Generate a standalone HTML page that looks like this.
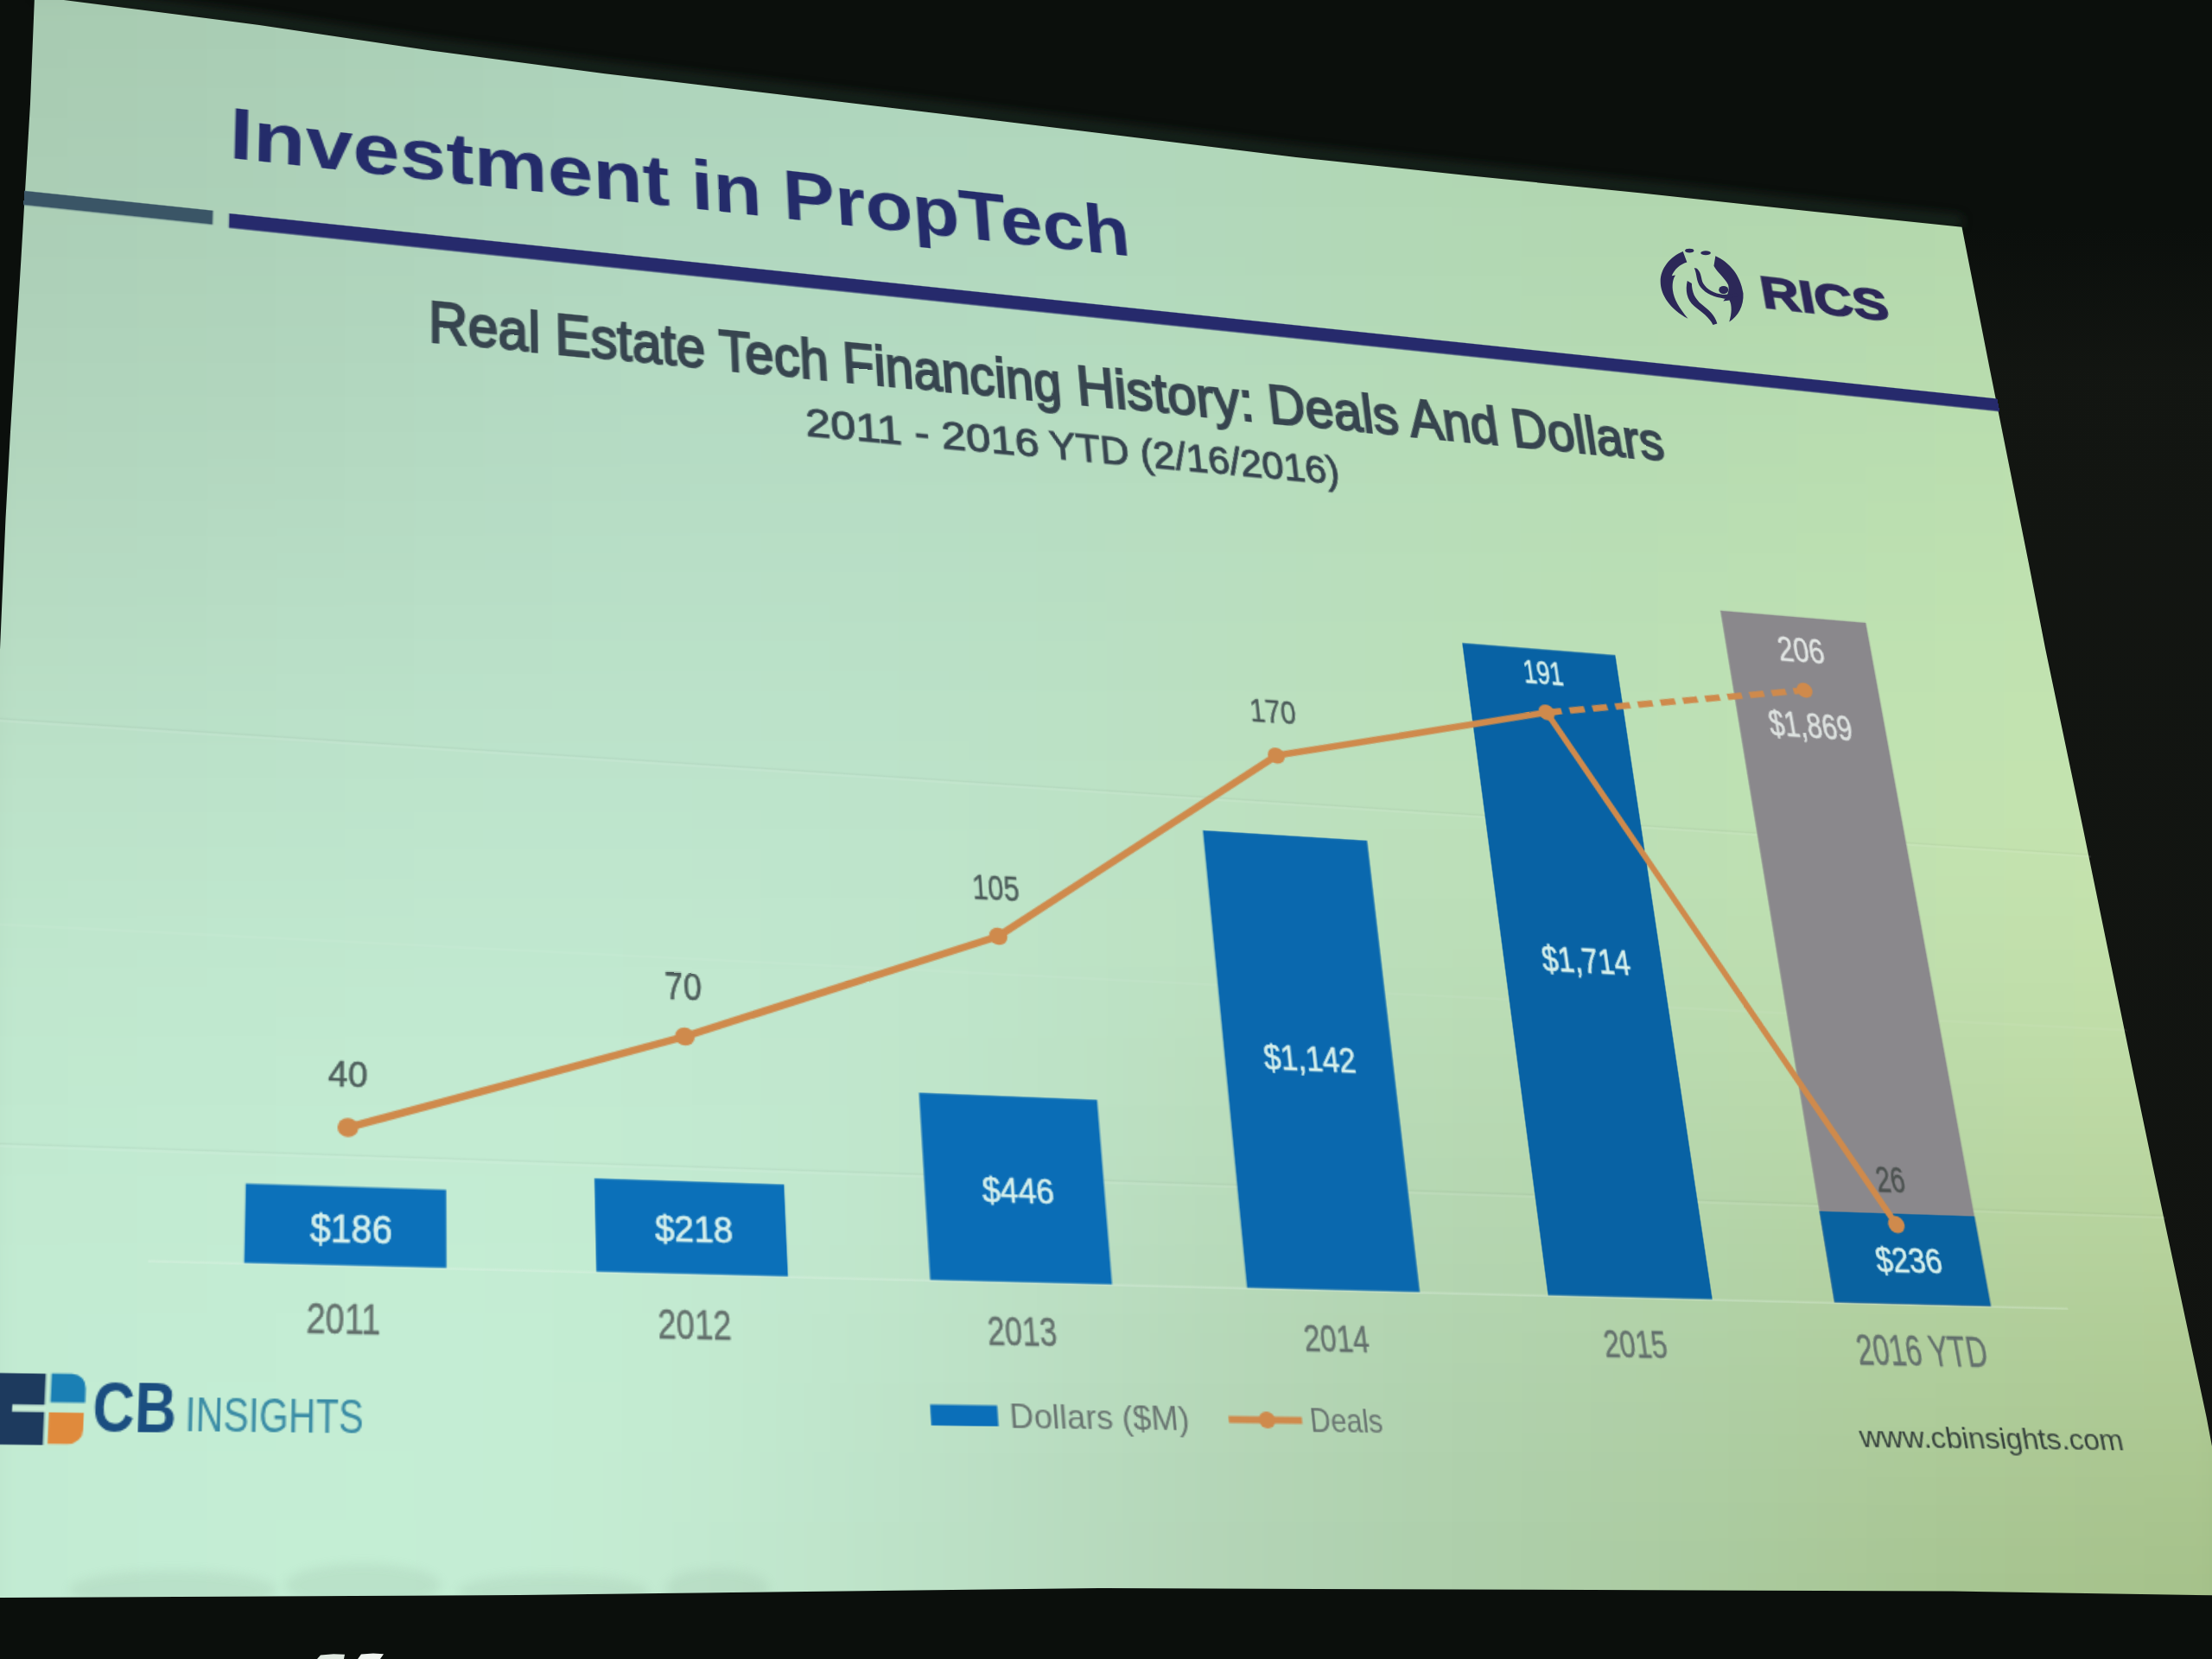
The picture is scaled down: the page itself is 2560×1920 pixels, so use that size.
<!DOCTYPE html>
<html><head><meta charset="utf-8"><title>Investment in PropTech</title>
<style>
html,body{margin:0;padding:0;width:2560px;height:1920px;overflow:hidden;background:#0a0c0a}
#bg{position:absolute;left:0;top:0}
#slide{position:absolute;left:0;top:0;width:1600px;height:1200px;transform-origin:0 0;transform:matrix3d(1.634414868,0.1944966024,0,0.0001058587836,-0.07295007135,1.266287619,0,-0.0001502861261,0,0,1,0,40,-4,0,1);font-family:"Liberation Sans", sans-serif}
#slide text{font-family:"Liberation Sans", sans-serif}
</style></head><body>
<svg id="bg" width="2560" height="1920" viewBox="0 0 2560 1920">
<defs>
<clipPath id="sc"><polygon points="40,-4 79.6,0.7 160,10.9 300,28.9 500,58.8 700,85.2 1100,133 1500,182 1700,203.3 1900,223.4 2100,245.1 2270.5,262.7 2302.4,425 2347.5,650 2367,750 2411,960 2470.6,1250 2491.5,1350 2553.6,1640 2565,1700 2600,1847 2260,1841.6 1280,1838 600,1846 0,1849 -10,1849 0,752 6.5,600 12,500 24.4,300 35,120"/></clipPath>
<filter id="bl" x="-5%" y="-5%" width="110%" height="110%" color-interpolation-filters="sRGB"><feGaussianBlur stdDeviation="40"/></filter>
<filter id="bl2" x="-50%" y="-50%" width="200%" height="200%"><feGaussianBlur stdDeviation="6"/></filter>
<linearGradient id="topband" x1="0" y1="0" x2="0" y2="1"><stop offset="0" stop-color="#0a0c0a" stop-opacity="0"/><stop offset="1" stop-color="#1e3024" stop-opacity="0.9"/></linearGradient>
<linearGradient id="rfade" x1="0" y1="0" x2="0" y2="1"><stop offset="0" stop-color="#131612" stop-opacity="0"/><stop offset="0.12" stop-color="#131612" stop-opacity="0.9"/><stop offset="1" stop-color="#121411" stop-opacity="0.9"/></linearGradient>
<linearGradient id="rband" x1="0" y1="0" x2="1" y2="0"><stop offset="0" stop-color="#1c1f1b"/><stop offset="1" stop-color="#0b0c0a"/></linearGradient>
</defs>
<rect width="2560" height="1920" fill="#0b0f0c"/>
<polygon points="2270.5,262.7 2302,425 2411,960 2553.6,1640 2560,1670 2560,262" fill="url(#rfade)"/>
<polyline points="40,-10 79.6,-5 160,4.9 300,22.9 500,52.8 700,79.2 1100,127 1500,176 1700,197.3 1900,217.4 2100,239.1 2270.5,256.7" fill="none" stroke="#1c2c20" stroke-width="14" opacity="0.75" filter="url(#bl2)"/>
<g clip-path="url(#sc)"><g filter="url(#bl)"><rect x="-80" y="-80" width="81" height="81" fill="#a7c9b0"/><rect x="0" y="-80" width="81" height="81" fill="#a7cab0"/><rect x="80" y="-80" width="81" height="81" fill="#a7cbb1"/><rect x="160" y="-80" width="81" height="81" fill="#a8cbb2"/><rect x="240" y="-80" width="81" height="81" fill="#a8ccb3"/><rect x="320" y="-80" width="81" height="81" fill="#a9cdb4"/><rect x="400" y="-80" width="81" height="81" fill="#aaceb5"/><rect x="480" y="-80" width="81" height="81" fill="#aacfb6"/><rect x="560" y="-80" width="81" height="81" fill="#abd0b7"/><rect x="640" y="-80" width="81" height="81" fill="#abd1b8"/><rect x="720" y="-80" width="81" height="81" fill="#acd2b9"/><rect x="800" y="-80" width="81" height="81" fill="#acd3ba"/><rect x="880" y="-80" width="81" height="81" fill="#add4bb"/><rect x="960" y="-80" width="81" height="81" fill="#add4bb"/><rect x="1040" y="-80" width="81" height="81" fill="#add4bb"/><rect x="1120" y="-80" width="81" height="81" fill="#aed5ba"/><rect x="1200" y="-80" width="81" height="81" fill="#aed5ba"/><rect x="1280" y="-80" width="81" height="81" fill="#aed5b9"/><rect x="1360" y="-80" width="81" height="81" fill="#aed4b7"/><rect x="1440" y="-80" width="81" height="81" fill="#aed4b5"/><rect x="1520" y="-80" width="81" height="81" fill="#aed4b3"/><rect x="1600" y="-80" width="81" height="81" fill="#add3b1"/><rect x="1680" y="-80" width="81" height="81" fill="#add3b0"/><rect x="1760" y="-80" width="81" height="81" fill="#add3ae"/><rect x="1840" y="-80" width="81" height="81" fill="#add3ad"/><rect x="1920" y="-80" width="81" height="81" fill="#add2ac"/><rect x="2000" y="-80" width="81" height="81" fill="#add2ac"/><rect x="2080" y="-80" width="81" height="81" fill="#aed2ab"/><rect x="2160" y="-80" width="81" height="81" fill="#aed3aa"/><rect x="2240" y="-80" width="81" height="81" fill="#afd3aa"/><rect x="2320" y="-80" width="81" height="81" fill="#afd3a9"/><rect x="2400" y="-80" width="81" height="81" fill="#b0d4a9"/><rect x="2480" y="-80" width="81" height="81" fill="#b1d5a9"/><rect x="2560" y="-80" width="81" height="81" fill="#b2d5a9"/><rect x="-80" y="0" width="81" height="81" fill="#a8cab1"/><rect x="0" y="0" width="81" height="81" fill="#a8cbb2"/><rect x="80" y="0" width="81" height="81" fill="#a8ccb2"/><rect x="160" y="0" width="81" height="81" fill="#a9ccb3"/><rect x="240" y="0" width="81" height="81" fill="#a9cdb4"/><rect x="320" y="0" width="81" height="81" fill="#aaceb5"/><rect x="400" y="0" width="81" height="81" fill="#abcfb6"/><rect x="480" y="0" width="81" height="81" fill="#abd0b8"/><rect x="560" y="0" width="81" height="81" fill="#acd1b9"/><rect x="640" y="0" width="81" height="81" fill="#acd2ba"/><rect x="720" y="0" width="81" height="81" fill="#add3bb"/><rect x="800" y="0" width="81" height="81" fill="#add4bb"/><rect x="880" y="0" width="81" height="81" fill="#aed4bc"/><rect x="960" y="0" width="81" height="81" fill="#aed5bc"/><rect x="1040" y="0" width="81" height="81" fill="#aed5bc"/><rect x="1120" y="0" width="81" height="81" fill="#afd5bb"/><rect x="1200" y="0" width="81" height="81" fill="#afd6bb"/><rect x="1280" y="0" width="81" height="81" fill="#afd6b9"/><rect x="1360" y="0" width="81" height="81" fill="#afd5b8"/><rect x="1440" y="0" width="81" height="81" fill="#afd5b6"/><rect x="1520" y="0" width="81" height="81" fill="#afd5b4"/><rect x="1600" y="0" width="81" height="81" fill="#aed4b2"/><rect x="1680" y="0" width="81" height="81" fill="#aed4b0"/><rect x="1760" y="0" width="81" height="81" fill="#aed4af"/><rect x="1840" y="0" width="81" height="81" fill="#aed4ae"/><rect x="1920" y="0" width="81" height="81" fill="#aed4ad"/><rect x="2000" y="0" width="81" height="81" fill="#afd4ac"/><rect x="2080" y="0" width="81" height="81" fill="#afd4ab"/><rect x="2160" y="0" width="81" height="81" fill="#afd4ab"/><rect x="2240" y="0" width="81" height="81" fill="#b0d4aa"/><rect x="2320" y="0" width="81" height="81" fill="#b1d5aa"/><rect x="2400" y="0" width="81" height="81" fill="#b2d5aa"/><rect x="2480" y="0" width="81" height="81" fill="#b3d6aa"/><rect x="2560" y="0" width="81" height="81" fill="#b4d7aa"/><rect x="-80" y="80" width="81" height="81" fill="#a9ccb3"/><rect x="0" y="80" width="81" height="81" fill="#a9ccb3"/><rect x="80" y="80" width="81" height="81" fill="#aacdb4"/><rect x="160" y="80" width="81" height="81" fill="#aaceb5"/><rect x="240" y="80" width="81" height="81" fill="#abcfb6"/><rect x="320" y="80" width="81" height="81" fill="#abd0b7"/><rect x="400" y="80" width="81" height="81" fill="#acd1b8"/><rect x="480" y="80" width="81" height="81" fill="#acd2b9"/><rect x="560" y="80" width="81" height="81" fill="#add3ba"/><rect x="640" y="80" width="81" height="81" fill="#aed4bb"/><rect x="720" y="80" width="81" height="81" fill="#aed4bc"/><rect x="800" y="80" width="81" height="81" fill="#afd5bc"/><rect x="880" y="80" width="81" height="81" fill="#afd5bd"/><rect x="960" y="80" width="81" height="81" fill="#afd6bd"/><rect x="1040" y="80" width="81" height="81" fill="#afd6bd"/><rect x="1120" y="80" width="81" height="81" fill="#b0d6bc"/><rect x="1200" y="80" width="81" height="81" fill="#b0d6bc"/><rect x="1280" y="80" width="81" height="81" fill="#b0d6ba"/><rect x="1360" y="80" width="81" height="81" fill="#b0d6b9"/><rect x="1440" y="80" width="81" height="81" fill="#b0d6b7"/><rect x="1520" y="80" width="81" height="81" fill="#b0d6b5"/><rect x="1600" y="80" width="81" height="81" fill="#b0d5b3"/><rect x="1680" y="80" width="81" height="81" fill="#afd5b1"/><rect x="1760" y="80" width="81" height="81" fill="#afd5b0"/><rect x="1840" y="80" width="81" height="81" fill="#b0d5af"/><rect x="1920" y="80" width="81" height="81" fill="#b0d5ae"/><rect x="2000" y="80" width="81" height="81" fill="#b0d5ad"/><rect x="2080" y="80" width="81" height="81" fill="#b0d5ac"/><rect x="2160" y="80" width="81" height="81" fill="#b1d5ac"/><rect x="2240" y="80" width="81" height="81" fill="#b1d6ab"/><rect x="2320" y="80" width="81" height="81" fill="#b2d6ab"/><rect x="2400" y="80" width="81" height="81" fill="#b3d7ab"/><rect x="2480" y="80" width="81" height="81" fill="#b4d8ab"/><rect x="2560" y="80" width="81" height="81" fill="#b6d9ab"/><rect x="-80" y="160" width="81" height="81" fill="#aacdb4"/><rect x="0" y="160" width="81" height="81" fill="#abceb5"/><rect x="80" y="160" width="81" height="81" fill="#abceb6"/><rect x="160" y="160" width="81" height="81" fill="#abcfb7"/><rect x="240" y="160" width="81" height="81" fill="#acd0b7"/><rect x="320" y="160" width="81" height="81" fill="#add1b9"/><rect x="400" y="160" width="81" height="81" fill="#add2ba"/><rect x="480" y="160" width="81" height="81" fill="#aed3bb"/><rect x="560" y="160" width="81" height="81" fill="#aed4bc"/><rect x="640" y="160" width="81" height="81" fill="#afd5bd"/><rect x="720" y="160" width="81" height="81" fill="#afd6bd"/><rect x="800" y="160" width="81" height="81" fill="#b0d6be"/><rect x="880" y="160" width="81" height="81" fill="#b0d7be"/><rect x="960" y="160" width="81" height="81" fill="#b0d7be"/><rect x="1040" y="160" width="81" height="81" fill="#b1d7be"/><rect x="1120" y="160" width="81" height="81" fill="#b1d7bd"/><rect x="1200" y="160" width="81" height="81" fill="#b1d7bd"/><rect x="1280" y="160" width="81" height="81" fill="#b1d7bb"/><rect x="1360" y="160" width="81" height="81" fill="#b1d7ba"/><rect x="1440" y="160" width="81" height="81" fill="#b1d7b8"/><rect x="1520" y="160" width="81" height="81" fill="#b1d7b6"/><rect x="1600" y="160" width="81" height="81" fill="#b1d7b4"/><rect x="1680" y="160" width="81" height="81" fill="#b1d6b2"/><rect x="1760" y="160" width="81" height="81" fill="#b1d6b1"/><rect x="1840" y="160" width="81" height="81" fill="#b1d6af"/><rect x="1920" y="160" width="81" height="81" fill="#b1d6ae"/><rect x="2000" y="160" width="81" height="81" fill="#b1d6ae"/><rect x="2080" y="160" width="81" height="81" fill="#b2d6ad"/><rect x="2160" y="160" width="81" height="81" fill="#b2d7ac"/><rect x="2240" y="160" width="81" height="81" fill="#b3d7ac"/><rect x="2320" y="160" width="81" height="81" fill="#b4d8ac"/><rect x="2400" y="160" width="81" height="81" fill="#b5d8ab"/><rect x="2480" y="160" width="81" height="81" fill="#b6d9ab"/><rect x="2560" y="160" width="81" height="81" fill="#b7daab"/><rect x="-80" y="240" width="81" height="81" fill="#accfb6"/><rect x="0" y="240" width="81" height="81" fill="#accfb7"/><rect x="80" y="240" width="81" height="81" fill="#acd0b8"/><rect x="160" y="240" width="81" height="81" fill="#add1b8"/><rect x="240" y="240" width="81" height="81" fill="#add2b9"/><rect x="320" y="240" width="81" height="81" fill="#aed3ba"/><rect x="400" y="240" width="81" height="81" fill="#afd4bb"/><rect x="480" y="240" width="81" height="81" fill="#afd4bc"/><rect x="560" y="240" width="81" height="81" fill="#b0d5bd"/><rect x="640" y="240" width="81" height="81" fill="#b0d6be"/><rect x="720" y="240" width="81" height="81" fill="#b1d7bf"/><rect x="800" y="240" width="81" height="81" fill="#b1d7bf"/><rect x="880" y="240" width="81" height="81" fill="#b1d8bf"/><rect x="960" y="240" width="81" height="81" fill="#b2d8bf"/><rect x="1040" y="240" width="81" height="81" fill="#b2d8bf"/><rect x="1120" y="240" width="81" height="81" fill="#b2d8be"/><rect x="1200" y="240" width="81" height="81" fill="#b2d9be"/><rect x="1280" y="240" width="81" height="81" fill="#b2d9bc"/><rect x="1360" y="240" width="81" height="81" fill="#b2d8bb"/><rect x="1440" y="240" width="81" height="81" fill="#b2d8b9"/><rect x="1520" y="240" width="81" height="81" fill="#b2d8b7"/><rect x="1600" y="240" width="81" height="81" fill="#b2d8b5"/><rect x="1680" y="240" width="81" height="81" fill="#b2d8b3"/><rect x="1760" y="240" width="81" height="81" fill="#b2d7b2"/><rect x="1840" y="240" width="81" height="81" fill="#b2d7b0"/><rect x="1920" y="240" width="81" height="81" fill="#b2d7af"/><rect x="2000" y="240" width="81" height="81" fill="#b3d8af"/><rect x="2080" y="240" width="81" height="81" fill="#b3d8ae"/><rect x="2160" y="240" width="81" height="81" fill="#b4d8ad"/><rect x="2240" y="240" width="81" height="81" fill="#b5d9ad"/><rect x="2320" y="240" width="81" height="81" fill="#b6d9ac"/><rect x="2400" y="240" width="81" height="81" fill="#b7daac"/><rect x="2480" y="240" width="81" height="81" fill="#b8dbac"/><rect x="2560" y="240" width="81" height="81" fill="#b9dcac"/><rect x="-80" y="320" width="81" height="81" fill="#add1b8"/><rect x="0" y="320" width="81" height="81" fill="#aed1b9"/><rect x="80" y="320" width="81" height="81" fill="#aed2ba"/><rect x="160" y="320" width="81" height="81" fill="#afd3ba"/><rect x="240" y="320" width="81" height="81" fill="#afd3bb"/><rect x="320" y="320" width="81" height="81" fill="#b0d4bc"/><rect x="400" y="320" width="81" height="81" fill="#b0d5bd"/><rect x="480" y="320" width="81" height="81" fill="#b1d6be"/><rect x="560" y="320" width="81" height="81" fill="#b1d7bf"/><rect x="640" y="320" width="81" height="81" fill="#b2d8c0"/><rect x="720" y="320" width="81" height="81" fill="#b2d8c0"/><rect x="800" y="320" width="81" height="81" fill="#b2d9c1"/><rect x="880" y="320" width="81" height="81" fill="#b3d9c1"/><rect x="960" y="320" width="81" height="81" fill="#b3d9c1"/><rect x="1040" y="320" width="81" height="81" fill="#b3d9c0"/><rect x="1120" y="320" width="81" height="81" fill="#b3dac0"/><rect x="1200" y="320" width="81" height="81" fill="#b3dabf"/><rect x="1280" y="320" width="81" height="81" fill="#b3dabd"/><rect x="1360" y="320" width="81" height="81" fill="#b3dabc"/><rect x="1440" y="320" width="81" height="81" fill="#b3d9ba"/><rect x="1520" y="320" width="81" height="81" fill="#b3d9b8"/><rect x="1600" y="320" width="81" height="81" fill="#b3d9b6"/><rect x="1680" y="320" width="81" height="81" fill="#b3d9b4"/><rect x="1760" y="320" width="81" height="81" fill="#b4d9b3"/><rect x="1840" y="320" width="81" height="81" fill="#b4d9b1"/><rect x="1920" y="320" width="81" height="81" fill="#b4d9b0"/><rect x="2000" y="320" width="81" height="81" fill="#b4d9af"/><rect x="2080" y="320" width="81" height="81" fill="#b5d9af"/><rect x="2160" y="320" width="81" height="81" fill="#b6daae"/><rect x="2240" y="320" width="81" height="81" fill="#b7daae"/><rect x="2320" y="320" width="81" height="81" fill="#b8dbad"/><rect x="2400" y="320" width="81" height="81" fill="#b9dcad"/><rect x="2480" y="320" width="81" height="81" fill="#baddad"/><rect x="2560" y="320" width="81" height="81" fill="#bbddad"/><rect x="-80" y="400" width="81" height="81" fill="#afd3ba"/><rect x="0" y="400" width="81" height="81" fill="#b0d3bb"/><rect x="80" y="400" width="81" height="81" fill="#b0d4bc"/><rect x="160" y="400" width="81" height="81" fill="#b0d5bc"/><rect x="240" y="400" width="81" height="81" fill="#b1d5bd"/><rect x="320" y="400" width="81" height="81" fill="#b1d6be"/><rect x="400" y="400" width="81" height="81" fill="#b2d7bf"/><rect x="480" y="400" width="81" height="81" fill="#b2d8c0"/><rect x="560" y="400" width="81" height="81" fill="#b3d9c1"/><rect x="640" y="400" width="81" height="81" fill="#b3d9c2"/><rect x="720" y="400" width="81" height="81" fill="#b4dac2"/><rect x="800" y="400" width="81" height="81" fill="#b4dac2"/><rect x="880" y="400" width="81" height="81" fill="#b4dac2"/><rect x="960" y="400" width="81" height="81" fill="#b4dbc2"/><rect x="1040" y="400" width="81" height="81" fill="#b4dbc1"/><rect x="1120" y="400" width="81" height="81" fill="#b4dbc1"/><rect x="1200" y="400" width="81" height="81" fill="#b5dbc0"/><rect x="1280" y="400" width="81" height="81" fill="#b5dbbe"/><rect x="1360" y="400" width="81" height="81" fill="#b5dbbd"/><rect x="1440" y="400" width="81" height="81" fill="#b5dbbb"/><rect x="1520" y="400" width="81" height="81" fill="#b5dbb9"/><rect x="1600" y="400" width="81" height="81" fill="#b5dab7"/><rect x="1680" y="400" width="81" height="81" fill="#b5dab5"/><rect x="1760" y="400" width="81" height="81" fill="#b5dab4"/><rect x="1840" y="400" width="81" height="81" fill="#b5dab2"/><rect x="1920" y="400" width="81" height="81" fill="#b6dab1"/><rect x="2000" y="400" width="81" height="81" fill="#b6dbb0"/><rect x="2080" y="400" width="81" height="81" fill="#b7dbb0"/><rect x="2160" y="400" width="81" height="81" fill="#b8dbaf"/><rect x="2240" y="400" width="81" height="81" fill="#b8dcae"/><rect x="2320" y="400" width="81" height="81" fill="#b9ddae"/><rect x="2400" y="400" width="81" height="81" fill="#bbddae"/><rect x="2480" y="400" width="81" height="81" fill="#bcdeae"/><rect x="2560" y="400" width="81" height="81" fill="#bddfae"/><rect x="-80" y="480" width="81" height="81" fill="#b1d5bd"/><rect x="0" y="480" width="81" height="81" fill="#b2d6bd"/><rect x="80" y="480" width="81" height="81" fill="#b2d6be"/><rect x="160" y="480" width="81" height="81" fill="#b2d7bf"/><rect x="240" y="480" width="81" height="81" fill="#b3d7bf"/><rect x="320" y="480" width="81" height="81" fill="#b3d8c0"/><rect x="400" y="480" width="81" height="81" fill="#b4d9c1"/><rect x="480" y="480" width="81" height="81" fill="#b4dac2"/><rect x="560" y="480" width="81" height="81" fill="#b5dac3"/><rect x="640" y="480" width="81" height="81" fill="#b5dbc3"/><rect x="720" y="480" width="81" height="81" fill="#b5dbc4"/><rect x="800" y="480" width="81" height="81" fill="#b5dcc4"/><rect x="880" y="480" width="81" height="81" fill="#b6dcc3"/><rect x="960" y="480" width="81" height="81" fill="#b6dcc3"/><rect x="1040" y="480" width="81" height="81" fill="#b6dcc3"/><rect x="1120" y="480" width="81" height="81" fill="#b6dcc2"/><rect x="1200" y="480" width="81" height="81" fill="#b6dcc1"/><rect x="1280" y="480" width="81" height="81" fill="#b6dcbf"/><rect x="1360" y="480" width="81" height="81" fill="#b6dcbe"/><rect x="1440" y="480" width="81" height="81" fill="#b6dcbc"/><rect x="1520" y="480" width="81" height="81" fill="#b6dcba"/><rect x="1600" y="480" width="81" height="81" fill="#b6dcb8"/><rect x="1680" y="480" width="81" height="81" fill="#b6dcb6"/><rect x="1760" y="480" width="81" height="81" fill="#b7dcb5"/><rect x="1840" y="480" width="81" height="81" fill="#b7dcb3"/><rect x="1920" y="480" width="81" height="81" fill="#b7dcb2"/><rect x="2000" y="480" width="81" height="81" fill="#b8dcb1"/><rect x="2080" y="480" width="81" height="81" fill="#b9ddb0"/><rect x="2160" y="480" width="81" height="81" fill="#b9ddb0"/><rect x="2240" y="480" width="81" height="81" fill="#badeaf"/><rect x="2320" y="480" width="81" height="81" fill="#bbdeaf"/><rect x="2400" y="480" width="81" height="81" fill="#bcdfaf"/><rect x="2480" y="480" width="81" height="81" fill="#bee0ae"/><rect x="2560" y="480" width="81" height="81" fill="#bfe0ae"/><rect x="-80" y="560" width="81" height="81" fill="#b4d8bf"/><rect x="0" y="560" width="81" height="81" fill="#b4d8c0"/><rect x="80" y="560" width="81" height="81" fill="#b4d8c0"/><rect x="160" y="560" width="81" height="81" fill="#b4d9c1"/><rect x="240" y="560" width="81" height="81" fill="#b5dac2"/><rect x="320" y="560" width="81" height="81" fill="#b5dac2"/><rect x="400" y="560" width="81" height="81" fill="#b6dbc3"/><rect x="480" y="560" width="81" height="81" fill="#b6dcc4"/><rect x="560" y="560" width="81" height="81" fill="#b6dcc5"/><rect x="640" y="560" width="81" height="81" fill="#b7ddc5"/><rect x="720" y="560" width="81" height="81" fill="#b7ddc5"/><rect x="800" y="560" width="81" height="81" fill="#b7ddc5"/><rect x="880" y="560" width="81" height="81" fill="#b7ddc5"/><rect x="960" y="560" width="81" height="81" fill="#b7ddc5"/><rect x="1040" y="560" width="81" height="81" fill="#b7ddc4"/><rect x="1120" y="560" width="81" height="81" fill="#b7ddc3"/><rect x="1200" y="560" width="81" height="81" fill="#b7ddc2"/><rect x="1280" y="560" width="81" height="81" fill="#b7ddc0"/><rect x="1360" y="560" width="81" height="81" fill="#b7ddbf"/><rect x="1440" y="560" width="81" height="81" fill="#b7ddbd"/><rect x="1520" y="560" width="81" height="81" fill="#b8ddbb"/><rect x="1600" y="560" width="81" height="81" fill="#b8ddb9"/><rect x="1680" y="560" width="81" height="81" fill="#b8ddb7"/><rect x="1760" y="560" width="81" height="81" fill="#b8ddb6"/><rect x="1840" y="560" width="81" height="81" fill="#b8ddb4"/><rect x="1920" y="560" width="81" height="81" fill="#b9ddb3"/><rect x="2000" y="560" width="81" height="81" fill="#badeb2"/><rect x="2080" y="560" width="81" height="81" fill="#badeb1"/><rect x="2160" y="560" width="81" height="81" fill="#bbdfb0"/><rect x="2240" y="560" width="81" height="81" fill="#bcdfb0"/><rect x="2320" y="560" width="81" height="81" fill="#bde0af"/><rect x="2400" y="560" width="81" height="81" fill="#bee1af"/><rect x="2480" y="560" width="81" height="81" fill="#bfe1af"/><rect x="2560" y="560" width="81" height="81" fill="#c0e2af"/><rect x="-80" y="640" width="81" height="81" fill="#b6dac2"/><rect x="0" y="640" width="81" height="81" fill="#b6dbc2"/><rect x="80" y="640" width="81" height="81" fill="#b6dbc3"/><rect x="160" y="640" width="81" height="81" fill="#b6dbc3"/><rect x="240" y="640" width="81" height="81" fill="#b7dcc4"/><rect x="320" y="640" width="81" height="81" fill="#b7ddc5"/><rect x="400" y="640" width="81" height="81" fill="#b7ddc5"/><rect x="480" y="640" width="81" height="81" fill="#b8dec6"/><rect x="560" y="640" width="81" height="81" fill="#b8dec6"/><rect x="640" y="640" width="81" height="81" fill="#b8dfc7"/><rect x="720" y="640" width="81" height="81" fill="#b9dfc7"/><rect x="800" y="640" width="81" height="81" fill="#b9dfc7"/><rect x="880" y="640" width="81" height="81" fill="#b9dfc6"/><rect x="960" y="640" width="81" height="81" fill="#b9dfc6"/><rect x="1040" y="640" width="81" height="81" fill="#b8dfc5"/><rect x="1120" y="640" width="81" height="81" fill="#b8dfc4"/><rect x="1200" y="640" width="81" height="81" fill="#b8dec3"/><rect x="1280" y="640" width="81" height="81" fill="#b9dec1"/><rect x="1360" y="640" width="81" height="81" fill="#b9dec0"/><rect x="1440" y="640" width="81" height="81" fill="#b9debe"/><rect x="1520" y="640" width="81" height="81" fill="#b9debc"/><rect x="1600" y="640" width="81" height="81" fill="#b9deba"/><rect x="1680" y="640" width="81" height="81" fill="#b9deb8"/><rect x="1760" y="640" width="81" height="81" fill="#badeb6"/><rect x="1840" y="640" width="81" height="81" fill="#badeb5"/><rect x="1920" y="640" width="81" height="81" fill="#bbdfb4"/><rect x="2000" y="640" width="81" height="81" fill="#bbdfb3"/><rect x="2080" y="640" width="81" height="81" fill="#bce0b2"/><rect x="2160" y="640" width="81" height="81" fill="#bde0b1"/><rect x="2240" y="640" width="81" height="81" fill="#bee1b0"/><rect x="2320" y="640" width="81" height="81" fill="#bfe1b0"/><rect x="2400" y="640" width="81" height="81" fill="#c0e2b0"/><rect x="2480" y="640" width="81" height="81" fill="#c1e2af"/><rect x="2560" y="640" width="81" height="81" fill="#c2e3af"/><rect x="-80" y="720" width="81" height="81" fill="#b8ddc4"/><rect x="0" y="720" width="81" height="81" fill="#b8ddc4"/><rect x="80" y="720" width="81" height="81" fill="#b8ddc5"/><rect x="160" y="720" width="81" height="81" fill="#b8dec5"/><rect x="240" y="720" width="81" height="81" fill="#b9dec6"/><rect x="320" y="720" width="81" height="81" fill="#b9dfc7"/><rect x="400" y="720" width="81" height="81" fill="#b9dfc7"/><rect x="480" y="720" width="81" height="81" fill="#bae0c8"/><rect x="560" y="720" width="81" height="81" fill="#bae0c8"/><rect x="640" y="720" width="81" height="81" fill="#bae1c8"/><rect x="720" y="720" width="81" height="81" fill="#bae1c8"/><rect x="800" y="720" width="81" height="81" fill="#bae1c8"/><rect x="880" y="720" width="81" height="81" fill="#bae1c8"/><rect x="960" y="720" width="81" height="81" fill="#bae0c7"/><rect x="1040" y="720" width="81" height="81" fill="#bae0c6"/><rect x="1120" y="720" width="81" height="81" fill="#bae0c5"/><rect x="1200" y="720" width="81" height="81" fill="#bae0c4"/><rect x="1280" y="720" width="81" height="81" fill="#badfc2"/><rect x="1360" y="720" width="81" height="81" fill="#badfc0"/><rect x="1440" y="720" width="81" height="81" fill="#badfbe"/><rect x="1520" y="720" width="81" height="81" fill="#badfbc"/><rect x="1600" y="720" width="81" height="81" fill="#badfba"/><rect x="1680" y="720" width="81" height="81" fill="#badfb9"/><rect x="1760" y="720" width="81" height="81" fill="#bbdfb7"/><rect x="1840" y="720" width="81" height="81" fill="#bbdfb6"/><rect x="1920" y="720" width="81" height="81" fill="#bce0b4"/><rect x="2000" y="720" width="81" height="81" fill="#bde0b3"/><rect x="2080" y="720" width="81" height="81" fill="#bee1b2"/><rect x="2160" y="720" width="81" height="81" fill="#bfe1b1"/><rect x="2240" y="720" width="81" height="81" fill="#c0e2b1"/><rect x="2320" y="720" width="81" height="81" fill="#c1e2b0"/><rect x="2400" y="720" width="81" height="81" fill="#c2e3b0"/><rect x="2480" y="720" width="81" height="81" fill="#c3e3af"/><rect x="2560" y="720" width="81" height="81" fill="#c3e4af"/><rect x="-80" y="800" width="81" height="81" fill="#badfc6"/><rect x="0" y="800" width="81" height="81" fill="#bae0c7"/><rect x="80" y="800" width="81" height="81" fill="#bae0c7"/><rect x="160" y="800" width="81" height="81" fill="#bae0c8"/><rect x="240" y="800" width="81" height="81" fill="#bae1c8"/><rect x="320" y="800" width="81" height="81" fill="#bbe1c9"/><rect x="400" y="800" width="81" height="81" fill="#bbe2c9"/><rect x="480" y="800" width="81" height="81" fill="#bbe2ca"/><rect x="560" y="800" width="81" height="81" fill="#bce2ca"/><rect x="640" y="800" width="81" height="81" fill="#bce2ca"/><rect x="720" y="800" width="81" height="81" fill="#bce2ca"/><rect x="800" y="800" width="81" height="81" fill="#bce2ca"/><rect x="880" y="800" width="81" height="81" fill="#bce2c9"/><rect x="960" y="800" width="81" height="81" fill="#bbe2c9"/><rect x="1040" y="800" width="81" height="81" fill="#bbe1c8"/><rect x="1120" y="800" width="81" height="81" fill="#bbe1c6"/><rect x="1200" y="800" width="81" height="81" fill="#bbe1c5"/><rect x="1280" y="800" width="81" height="81" fill="#bbe0c3"/><rect x="1360" y="800" width="81" height="81" fill="#bbe0c1"/><rect x="1440" y="800" width="81" height="81" fill="#bbe0bf"/><rect x="1520" y="800" width="81" height="81" fill="#bbe0bd"/><rect x="1600" y="800" width="81" height="81" fill="#bbe0bb"/><rect x="1680" y="800" width="81" height="81" fill="#bbe0b9"/><rect x="1760" y="800" width="81" height="81" fill="#bce0b7"/><rect x="1840" y="800" width="81" height="81" fill="#bce0b6"/><rect x="1920" y="800" width="81" height="81" fill="#bde0b5"/><rect x="2000" y="800" width="81" height="81" fill="#bee1b3"/><rect x="2080" y="800" width="81" height="81" fill="#bfe1b2"/><rect x="2160" y="800" width="81" height="81" fill="#c0e2b1"/><rect x="2240" y="800" width="81" height="81" fill="#c1e2b1"/><rect x="2320" y="800" width="81" height="81" fill="#c2e3b0"/><rect x="2400" y="800" width="81" height="81" fill="#c3e3b0"/><rect x="2480" y="800" width="81" height="81" fill="#c4e4af"/><rect x="2560" y="800" width="81" height="81" fill="#c4e4af"/><rect x="-80" y="880" width="81" height="81" fill="#bce2c9"/><rect x="0" y="880" width="81" height="81" fill="#bce2c9"/><rect x="80" y="880" width="81" height="81" fill="#bce2c9"/><rect x="160" y="880" width="81" height="81" fill="#bce2ca"/><rect x="240" y="880" width="81" height="81" fill="#bce3ca"/><rect x="320" y="880" width="81" height="81" fill="#bce3cb"/><rect x="400" y="880" width="81" height="81" fill="#bde4cb"/><rect x="480" y="880" width="81" height="81" fill="#bde4cb"/><rect x="560" y="880" width="81" height="81" fill="#bde4cc"/><rect x="640" y="880" width="81" height="81" fill="#bde4cc"/><rect x="720" y="880" width="81" height="81" fill="#bde4cc"/><rect x="800" y="880" width="81" height="81" fill="#bde4cb"/><rect x="880" y="880" width="81" height="81" fill="#bde4cb"/><rect x="960" y="880" width="81" height="81" fill="#bde3ca"/><rect x="1040" y="880" width="81" height="81" fill="#bde3c9"/><rect x="1120" y="880" width="81" height="81" fill="#bce2c7"/><rect x="1200" y="880" width="81" height="81" fill="#bce2c6"/><rect x="1280" y="880" width="81" height="81" fill="#bce1c3"/><rect x="1360" y="880" width="81" height="81" fill="#bce1c1"/><rect x="1440" y="880" width="81" height="81" fill="#bce0bf"/><rect x="1520" y="880" width="81" height="81" fill="#bce0bd"/><rect x="1600" y="880" width="81" height="81" fill="#bce0bb"/><rect x="1680" y="880" width="81" height="81" fill="#bce0b9"/><rect x="1760" y="880" width="81" height="81" fill="#bce0b7"/><rect x="1840" y="880" width="81" height="81" fill="#bde0b6"/><rect x="1920" y="880" width="81" height="81" fill="#bde0b4"/><rect x="2000" y="880" width="81" height="81" fill="#bee1b3"/><rect x="2080" y="880" width="81" height="81" fill="#bfe1b2"/><rect x="2160" y="880" width="81" height="81" fill="#c1e2b1"/><rect x="2240" y="880" width="81" height="81" fill="#c2e2b0"/><rect x="2320" y="880" width="81" height="81" fill="#c3e3af"/><rect x="2400" y="880" width="81" height="81" fill="#c4e3af"/><rect x="2480" y="880" width="81" height="81" fill="#c4e4ae"/><rect x="2560" y="880" width="81" height="81" fill="#c5e4ae"/><rect x="-80" y="960" width="81" height="81" fill="#bde4cb"/><rect x="0" y="960" width="81" height="81" fill="#bde4cb"/><rect x="80" y="960" width="81" height="81" fill="#bde4cb"/><rect x="160" y="960" width="81" height="81" fill="#bee4cb"/><rect x="240" y="960" width="81" height="81" fill="#bee5cc"/><rect x="320" y="960" width="81" height="81" fill="#bee5cc"/><rect x="400" y="960" width="81" height="81" fill="#bee5cd"/><rect x="480" y="960" width="81" height="81" fill="#bfe6cd"/><rect x="560" y="960" width="81" height="81" fill="#bfe6cd"/><rect x="640" y="960" width="81" height="81" fill="#bfe6cd"/><rect x="720" y="960" width="81" height="81" fill="#bfe6cd"/><rect x="800" y="960" width="81" height="81" fill="#bfe5cd"/><rect x="880" y="960" width="81" height="81" fill="#bee5cc"/><rect x="960" y="960" width="81" height="81" fill="#bee4cb"/><rect x="1040" y="960" width="81" height="81" fill="#bee4ca"/><rect x="1120" y="960" width="81" height="81" fill="#bde3c8"/><rect x="1200" y="960" width="81" height="81" fill="#bde2c6"/><rect x="1280" y="960" width="81" height="81" fill="#bce2c4"/><rect x="1360" y="960" width="81" height="81" fill="#bce1c1"/><rect x="1440" y="960" width="81" height="81" fill="#bce0bf"/><rect x="1520" y="960" width="81" height="81" fill="#bce0bc"/><rect x="1600" y="960" width="81" height="81" fill="#bcdfba"/><rect x="1680" y="960" width="81" height="81" fill="#bcdfb8"/><rect x="1760" y="960" width="81" height="81" fill="#bcdfb6"/><rect x="1840" y="960" width="81" height="81" fill="#bcdfb5"/><rect x="1920" y="960" width="81" height="81" fill="#bddfb4"/><rect x="2000" y="960" width="81" height="81" fill="#bee0b2"/><rect x="2080" y="960" width="81" height="81" fill="#bfe0b1"/><rect x="2160" y="960" width="81" height="81" fill="#c1e1b0"/><rect x="2240" y="960" width="81" height="81" fill="#c2e2af"/><rect x="2320" y="960" width="81" height="81" fill="#c3e2ae"/><rect x="2400" y="960" width="81" height="81" fill="#c4e2ae"/><rect x="2480" y="960" width="81" height="81" fill="#c4e3ad"/><rect x="2560" y="960" width="81" height="81" fill="#c5e3ac"/><rect x="-80" y="1040" width="81" height="81" fill="#bee5cc"/><rect x="0" y="1040" width="81" height="81" fill="#bee6cc"/><rect x="80" y="1040" width="81" height="81" fill="#bfe6cd"/><rect x="160" y="1040" width="81" height="81" fill="#bfe6cd"/><rect x="240" y="1040" width="81" height="81" fill="#bfe7ce"/><rect x="320" y="1040" width="81" height="81" fill="#bfe7ce"/><rect x="400" y="1040" width="81" height="81" fill="#c0e7ce"/><rect x="480" y="1040" width="81" height="81" fill="#c0e7cf"/><rect x="560" y="1040" width="81" height="81" fill="#c0e7cf"/><rect x="640" y="1040" width="81" height="81" fill="#c0e7cf"/><rect x="720" y="1040" width="81" height="81" fill="#c0e7ce"/><rect x="800" y="1040" width="81" height="81" fill="#c0e7ce"/><rect x="880" y="1040" width="81" height="81" fill="#bfe6cd"/><rect x="960" y="1040" width="81" height="81" fill="#bfe5cc"/><rect x="1040" y="1040" width="81" height="81" fill="#bee5ca"/><rect x="1120" y="1040" width="81" height="81" fill="#bee4c8"/><rect x="1200" y="1040" width="81" height="81" fill="#bde3c6"/><rect x="1280" y="1040" width="81" height="81" fill="#bde2c3"/><rect x="1360" y="1040" width="81" height="81" fill="#bce1c1"/><rect x="1440" y="1040" width="81" height="81" fill="#bce0be"/><rect x="1520" y="1040" width="81" height="81" fill="#bbdfbb"/><rect x="1600" y="1040" width="81" height="81" fill="#bbdeb9"/><rect x="1680" y="1040" width="81" height="81" fill="#bbdeb7"/><rect x="1760" y="1040" width="81" height="81" fill="#bbdeb5"/><rect x="1840" y="1040" width="81" height="81" fill="#bcdeb4"/><rect x="1920" y="1040" width="81" height="81" fill="#bcdeb2"/><rect x="2000" y="1040" width="81" height="81" fill="#bddeb1"/><rect x="2080" y="1040" width="81" height="81" fill="#bedfaf"/><rect x="2160" y="1040" width="81" height="81" fill="#c0dfae"/><rect x="2240" y="1040" width="81" height="81" fill="#c1e0ad"/><rect x="2320" y="1040" width="81" height="81" fill="#c2e0ac"/><rect x="2400" y="1040" width="81" height="81" fill="#c3e1ab"/><rect x="2480" y="1040" width="81" height="81" fill="#c3e1ab"/><rect x="2560" y="1040" width="81" height="81" fill="#c4e1aa"/><rect x="-80" y="1120" width="81" height="81" fill="#bfe7ce"/><rect x="0" y="1120" width="81" height="81" fill="#c0e7ce"/><rect x="80" y="1120" width="81" height="81" fill="#c0e7ce"/><rect x="160" y="1120" width="81" height="81" fill="#c0e8cf"/><rect x="240" y="1120" width="81" height="81" fill="#c0e8cf"/><rect x="320" y="1120" width="81" height="81" fill="#c1e8cf"/><rect x="400" y="1120" width="81" height="81" fill="#c1e9d0"/><rect x="480" y="1120" width="81" height="81" fill="#c1e9d0"/><rect x="560" y="1120" width="81" height="81" fill="#c1e9d0"/><rect x="640" y="1120" width="81" height="81" fill="#c1e9d0"/><rect x="720" y="1120" width="81" height="81" fill="#c1e8cf"/><rect x="800" y="1120" width="81" height="81" fill="#c1e8cf"/><rect x="880" y="1120" width="81" height="81" fill="#c0e7ce"/><rect x="960" y="1120" width="81" height="81" fill="#c0e6cc"/><rect x="1040" y="1120" width="81" height="81" fill="#bfe5cb"/><rect x="1120" y="1120" width="81" height="81" fill="#bee4c8"/><rect x="1200" y="1120" width="81" height="81" fill="#bde2c6"/><rect x="1280" y="1120" width="81" height="81" fill="#bce1c3"/><rect x="1360" y="1120" width="81" height="81" fill="#bce0c0"/><rect x="1440" y="1120" width="81" height="81" fill="#bbdebd"/><rect x="1520" y="1120" width="81" height="81" fill="#badeba"/><rect x="1600" y="1120" width="81" height="81" fill="#baddb8"/><rect x="1680" y="1120" width="81" height="81" fill="#badcb5"/><rect x="1760" y="1120" width="81" height="81" fill="#badcb4"/><rect x="1840" y="1120" width="81" height="81" fill="#badcb2"/><rect x="1920" y="1120" width="81" height="81" fill="#bbdcb0"/><rect x="2000" y="1120" width="81" height="81" fill="#bcdcaf"/><rect x="2080" y="1120" width="81" height="81" fill="#bdddad"/><rect x="2160" y="1120" width="81" height="81" fill="#beddac"/><rect x="2240" y="1120" width="81" height="81" fill="#bfddab"/><rect x="2320" y="1120" width="81" height="81" fill="#c0deaa"/><rect x="2400" y="1120" width="81" height="81" fill="#c1dea9"/><rect x="2480" y="1120" width="81" height="81" fill="#c1dea8"/><rect x="2560" y="1120" width="81" height="81" fill="#c2dea8"/><rect x="-80" y="1200" width="81" height="81" fill="#c0e8cf"/><rect x="0" y="1200" width="81" height="81" fill="#c0e8cf"/><rect x="80" y="1200" width="81" height="81" fill="#c1e9cf"/><rect x="160" y="1200" width="81" height="81" fill="#c1e9d0"/><rect x="240" y="1200" width="81" height="81" fill="#c1e9d0"/><rect x="320" y="1200" width="81" height="81" fill="#c2ead1"/><rect x="400" y="1200" width="81" height="81" fill="#c2ead1"/><rect x="480" y="1200" width="81" height="81" fill="#c2ead1"/><rect x="560" y="1200" width="81" height="81" fill="#c2ead1"/><rect x="640" y="1200" width="81" height="81" fill="#c2ead1"/><rect x="720" y="1200" width="81" height="81" fill="#c2e9d0"/><rect x="800" y="1200" width="81" height="81" fill="#c1e8cf"/><rect x="880" y="1200" width="81" height="81" fill="#c1e7ce"/><rect x="960" y="1200" width="81" height="81" fill="#c0e6cc"/><rect x="1040" y="1200" width="81" height="81" fill="#bfe5ca"/><rect x="1120" y="1200" width="81" height="81" fill="#bee3c8"/><rect x="1200" y="1200" width="81" height="81" fill="#bde2c5"/><rect x="1280" y="1200" width="81" height="81" fill="#bce0c2"/><rect x="1360" y="1200" width="81" height="81" fill="#bbdebe"/><rect x="1440" y="1200" width="81" height="81" fill="#baddbb"/><rect x="1520" y="1200" width="81" height="81" fill="#b9dcb8"/><rect x="1600" y="1200" width="81" height="81" fill="#b9dbb6"/><rect x="1680" y="1200" width="81" height="81" fill="#b8dab4"/><rect x="1760" y="1200" width="81" height="81" fill="#b8dab2"/><rect x="1840" y="1200" width="81" height="81" fill="#b8dab0"/><rect x="1920" y="1200" width="81" height="81" fill="#b9daae"/><rect x="2000" y="1200" width="81" height="81" fill="#badaad"/><rect x="2080" y="1200" width="81" height="81" fill="#badaab"/><rect x="2160" y="1200" width="81" height="81" fill="#bbdaa9"/><rect x="2240" y="1200" width="81" height="81" fill="#bcdaa8"/><rect x="2320" y="1200" width="81" height="81" fill="#bddba7"/><rect x="2400" y="1200" width="81" height="81" fill="#bedba6"/><rect x="2480" y="1200" width="81" height="81" fill="#bfdba5"/><rect x="2560" y="1200" width="81" height="81" fill="#bfdba4"/><rect x="-80" y="1280" width="81" height="81" fill="#c1e9d0"/><rect x="0" y="1280" width="81" height="81" fill="#c1e9d0"/><rect x="80" y="1280" width="81" height="81" fill="#c1ead1"/><rect x="160" y="1280" width="81" height="81" fill="#c2ead1"/><rect x="240" y="1280" width="81" height="81" fill="#c2ead1"/><rect x="320" y="1280" width="81" height="81" fill="#c2ebd2"/><rect x="400" y="1280" width="81" height="81" fill="#c3ebd2"/><rect x="480" y="1280" width="81" height="81" fill="#c3ebd2"/><rect x="560" y="1280" width="81" height="81" fill="#c3ebd2"/><rect x="640" y="1280" width="81" height="81" fill="#c3ebd1"/><rect x="720" y="1280" width="81" height="81" fill="#c2ead1"/><rect x="800" y="1280" width="81" height="81" fill="#c2e9d0"/><rect x="880" y="1280" width="81" height="81" fill="#c1e8ce"/><rect x="960" y="1280" width="81" height="81" fill="#c0e6cc"/><rect x="1040" y="1280" width="81" height="81" fill="#bfe5ca"/><rect x="1120" y="1280" width="81" height="81" fill="#bee3c7"/><rect x="1200" y="1280" width="81" height="81" fill="#bce1c4"/><rect x="1280" y="1280" width="81" height="81" fill="#bbdfc1"/><rect x="1360" y="1280" width="81" height="81" fill="#baddbd"/><rect x="1440" y="1280" width="81" height="81" fill="#b9dbba"/><rect x="1520" y="1280" width="81" height="81" fill="#b8dab7"/><rect x="1600" y="1280" width="81" height="81" fill="#b7d9b4"/><rect x="1680" y="1280" width="81" height="81" fill="#b7d8b2"/><rect x="1760" y="1280" width="81" height="81" fill="#b6d8b0"/><rect x="1840" y="1280" width="81" height="81" fill="#b6d7ae"/><rect x="1920" y="1280" width="81" height="81" fill="#b7d7ac"/><rect x="2000" y="1280" width="81" height="81" fill="#b7d7aa"/><rect x="2080" y="1280" width="81" height="81" fill="#b8d7a8"/><rect x="2160" y="1280" width="81" height="81" fill="#b9d7a6"/><rect x="2240" y="1280" width="81" height="81" fill="#b9d7a5"/><rect x="2320" y="1280" width="81" height="81" fill="#bad7a3"/><rect x="2400" y="1280" width="81" height="81" fill="#bbd7a2"/><rect x="2480" y="1280" width="81" height="81" fill="#bbd7a1"/><rect x="2560" y="1280" width="81" height="81" fill="#bcd7a1"/><rect x="-80" y="1360" width="81" height="81" fill="#c1ead1"/><rect x="0" y="1360" width="81" height="81" fill="#c2ead1"/><rect x="80" y="1360" width="81" height="81" fill="#c2ead1"/><rect x="160" y="1360" width="81" height="81" fill="#c2ebd2"/><rect x="240" y="1360" width="81" height="81" fill="#c3ebd2"/><rect x="320" y="1360" width="81" height="81" fill="#c3ecd3"/><rect x="400" y="1360" width="81" height="81" fill="#c3ecd3"/><rect x="480" y="1360" width="81" height="81" fill="#c3ecd3"/><rect x="560" y="1360" width="81" height="81" fill="#c3ecd2"/><rect x="640" y="1360" width="81" height="81" fill="#c3ebd2"/><rect x="720" y="1360" width="81" height="81" fill="#c3ead1"/><rect x="800" y="1360" width="81" height="81" fill="#c2e9d0"/><rect x="880" y="1360" width="81" height="81" fill="#c1e8ce"/><rect x="960" y="1360" width="81" height="81" fill="#c0e6cc"/><rect x="1040" y="1360" width="81" height="81" fill="#bfe4c9"/><rect x="1120" y="1360" width="81" height="81" fill="#bde2c6"/><rect x="1200" y="1360" width="81" height="81" fill="#bce0c3"/><rect x="1280" y="1360" width="81" height="81" fill="#baddbf"/><rect x="1360" y="1360" width="81" height="81" fill="#b8dbbc"/><rect x="1440" y="1360" width="81" height="81" fill="#b7dab8"/><rect x="1520" y="1360" width="81" height="81" fill="#b6d8b5"/><rect x="1600" y="1360" width="81" height="81" fill="#b5d7b3"/><rect x="1680" y="1360" width="81" height="81" fill="#b5d6b0"/><rect x="1760" y="1360" width="81" height="81" fill="#b5d6ae"/><rect x="1840" y="1360" width="81" height="81" fill="#b4d5ac"/><rect x="1920" y="1360" width="81" height="81" fill="#b5d5aa"/><rect x="2000" y="1360" width="81" height="81" fill="#b5d4a8"/><rect x="2080" y="1360" width="81" height="81" fill="#b5d4a5"/><rect x="2160" y="1360" width="81" height="81" fill="#b6d4a3"/><rect x="2240" y="1360" width="81" height="81" fill="#b6d4a1"/><rect x="2320" y="1360" width="81" height="81" fill="#b7d4a0"/><rect x="2400" y="1360" width="81" height="81" fill="#b7d49f"/><rect x="2480" y="1360" width="81" height="81" fill="#b8d49e"/><rect x="2560" y="1360" width="81" height="81" fill="#b8d49d"/><rect x="-80" y="1440" width="81" height="81" fill="#c2ead1"/><rect x="0" y="1440" width="81" height="81" fill="#c2ebd2"/><rect x="80" y="1440" width="81" height="81" fill="#c2ebd2"/><rect x="160" y="1440" width="81" height="81" fill="#c3ebd2"/><rect x="240" y="1440" width="81" height="81" fill="#c3ecd3"/><rect x="320" y="1440" width="81" height="81" fill="#c3ecd3"/><rect x="400" y="1440" width="81" height="81" fill="#c4edd3"/><rect x="480" y="1440" width="81" height="81" fill="#c4edd3"/><rect x="560" y="1440" width="81" height="81" fill="#c4ecd3"/><rect x="640" y="1440" width="81" height="81" fill="#c3ecd2"/><rect x="720" y="1440" width="81" height="81" fill="#c3ead1"/><rect x="800" y="1440" width="81" height="81" fill="#c2e9d0"/><rect x="880" y="1440" width="81" height="81" fill="#c1e7ce"/><rect x="960" y="1440" width="81" height="81" fill="#c0e6cb"/><rect x="1040" y="1440" width="81" height="81" fill="#bee3c9"/><rect x="1120" y="1440" width="81" height="81" fill="#bce1c5"/><rect x="1200" y="1440" width="81" height="81" fill="#bbdec2"/><rect x="1280" y="1440" width="81" height="81" fill="#b9dcbe"/><rect x="1360" y="1440" width="81" height="81" fill="#b7daba"/><rect x="1440" y="1440" width="81" height="81" fill="#b6d8b7"/><rect x="1520" y="1440" width="81" height="81" fill="#b5d6b4"/><rect x="1600" y="1440" width="81" height="81" fill="#b4d5b1"/><rect x="1680" y="1440" width="81" height="81" fill="#b3d4af"/><rect x="1760" y="1440" width="81" height="81" fill="#b3d4ad"/><rect x="1840" y="1440" width="81" height="81" fill="#b3d3aa"/><rect x="1920" y="1440" width="81" height="81" fill="#b2d3a8"/><rect x="2000" y="1440" width="81" height="81" fill="#b2d2a5"/><rect x="2080" y="1440" width="81" height="81" fill="#b3d1a3"/><rect x="2160" y="1440" width="81" height="81" fill="#b3d1a0"/><rect x="2240" y="1440" width="81" height="81" fill="#b3d19e"/><rect x="2320" y="1440" width="81" height="81" fill="#b4d09c"/><rect x="2400" y="1440" width="81" height="81" fill="#b4d09b"/><rect x="2480" y="1440" width="81" height="81" fill="#b4d09a"/><rect x="2560" y="1440" width="81" height="81" fill="#b4d099"/><rect x="-80" y="1520" width="81" height="81" fill="#c2ead2"/><rect x="0" y="1520" width="81" height="81" fill="#c2ebd2"/><rect x="80" y="1520" width="81" height="81" fill="#c2ebd3"/><rect x="160" y="1520" width="81" height="81" fill="#c3ecd3"/><rect x="240" y="1520" width="81" height="81" fill="#c3ecd3"/><rect x="320" y="1520" width="81" height="81" fill="#c4edd4"/><rect x="400" y="1520" width="81" height="81" fill="#c4edd4"/><rect x="480" y="1520" width="81" height="81" fill="#c4edd4"/><rect x="560" y="1520" width="81" height="81" fill="#c4edd3"/><rect x="640" y="1520" width="81" height="81" fill="#c3ecd2"/><rect x="720" y="1520" width="81" height="81" fill="#c3ebd1"/><rect x="800" y="1520" width="81" height="81" fill="#c2e9cf"/><rect x="880" y="1520" width="81" height="81" fill="#c1e7cd"/><rect x="960" y="1520" width="81" height="81" fill="#bfe5cb"/><rect x="1040" y="1520" width="81" height="81" fill="#bee3c8"/><rect x="1120" y="1520" width="81" height="81" fill="#bce0c5"/><rect x="1200" y="1520" width="81" height="81" fill="#baddc1"/><rect x="1280" y="1520" width="81" height="81" fill="#b8dbbd"/><rect x="1360" y="1520" width="81" height="81" fill="#b6d8b9"/><rect x="1440" y="1520" width="81" height="81" fill="#b5d6b6"/><rect x="1520" y="1520" width="81" height="81" fill="#b3d5b3"/><rect x="1600" y="1520" width="81" height="81" fill="#b2d4b0"/><rect x="1680" y="1520" width="81" height="81" fill="#b2d3ad"/><rect x="1760" y="1520" width="81" height="81" fill="#b1d2ab"/><rect x="1840" y="1520" width="81" height="81" fill="#b1d1a8"/><rect x="1920" y="1520" width="81" height="81" fill="#b0d0a6"/><rect x="2000" y="1520" width="81" height="81" fill="#b0d0a3"/><rect x="2080" y="1520" width="81" height="81" fill="#b0cfa0"/><rect x="2160" y="1520" width="81" height="81" fill="#b0ce9e"/><rect x="2240" y="1520" width="81" height="81" fill="#b0ce9b"/><rect x="2320" y="1520" width="81" height="81" fill="#b0cd99"/><rect x="2400" y="1520" width="81" height="81" fill="#b0cd97"/><rect x="2480" y="1520" width="81" height="81" fill="#b1cc96"/><rect x="2560" y="1520" width="81" height="81" fill="#b1cc95"/><rect x="-80" y="1600" width="81" height="81" fill="#c2ebd2"/><rect x="0" y="1600" width="81" height="81" fill="#c2ebd2"/><rect x="80" y="1600" width="81" height="81" fill="#c3ecd3"/><rect x="160" y="1600" width="81" height="81" fill="#c3ecd3"/><rect x="240" y="1600" width="81" height="81" fill="#c3edd4"/><rect x="320" y="1600" width="81" height="81" fill="#c4edd4"/><rect x="400" y="1600" width="81" height="81" fill="#c4edd4"/><rect x="480" y="1600" width="81" height="81" fill="#c4edd4"/><rect x="560" y="1600" width="81" height="81" fill="#c4edd3"/><rect x="640" y="1600" width="81" height="81" fill="#c4ecd2"/><rect x="720" y="1600" width="81" height="81" fill="#c3ebd1"/><rect x="800" y="1600" width="81" height="81" fill="#c2e9cf"/><rect x="880" y="1600" width="81" height="81" fill="#c0e7cd"/><rect x="960" y="1600" width="81" height="81" fill="#bfe4ca"/><rect x="1040" y="1600" width="81" height="81" fill="#bde2c7"/><rect x="1120" y="1600" width="81" height="81" fill="#bbdfc4"/><rect x="1200" y="1600" width="81" height="81" fill="#b9dcc0"/><rect x="1280" y="1600" width="81" height="81" fill="#b7dabc"/><rect x="1360" y="1600" width="81" height="81" fill="#b5d7b8"/><rect x="1440" y="1600" width="81" height="81" fill="#b4d5b5"/><rect x="1520" y="1600" width="81" height="81" fill="#b2d4b2"/><rect x="1600" y="1600" width="81" height="81" fill="#b1d2af"/><rect x="1680" y="1600" width="81" height="81" fill="#b0d1ac"/><rect x="1760" y="1600" width="81" height="81" fill="#b0d0aa"/><rect x="1840" y="1600" width="81" height="81" fill="#afcfa7"/><rect x="1920" y="1600" width="81" height="81" fill="#afcea4"/><rect x="2000" y="1600" width="81" height="81" fill="#aecda1"/><rect x="2080" y="1600" width="81" height="81" fill="#aecc9e"/><rect x="2160" y="1600" width="81" height="81" fill="#aecc9b"/><rect x="2240" y="1600" width="81" height="81" fill="#adcb98"/><rect x="2320" y="1600" width="81" height="81" fill="#adca96"/><rect x="2400" y="1600" width="81" height="81" fill="#adc994"/><rect x="2480" y="1600" width="81" height="81" fill="#adc993"/><rect x="2560" y="1600" width="81" height="81" fill="#adc992"/><rect x="-80" y="1680" width="81" height="81" fill="#c2ebd2"/><rect x="0" y="1680" width="81" height="81" fill="#c2ebd3"/><rect x="80" y="1680" width="81" height="81" fill="#c3ecd3"/><rect x="160" y="1680" width="81" height="81" fill="#c3ecd4"/><rect x="240" y="1680" width="81" height="81" fill="#c4edd4"/><rect x="320" y="1680" width="81" height="81" fill="#c4edd4"/><rect x="400" y="1680" width="81" height="81" fill="#c4eed4"/><rect x="480" y="1680" width="81" height="81" fill="#c4edd4"/><rect x="560" y="1680" width="81" height="81" fill="#c4edd3"/><rect x="640" y="1680" width="81" height="81" fill="#c4ecd2"/><rect x="720" y="1680" width="81" height="81" fill="#c3ead1"/><rect x="800" y="1680" width="81" height="81" fill="#c2e9cf"/><rect x="880" y="1680" width="81" height="81" fill="#c0e6cd"/><rect x="960" y="1680" width="81" height="81" fill="#bee4ca"/><rect x="1040" y="1680" width="81" height="81" fill="#bde1c7"/><rect x="1120" y="1680" width="81" height="81" fill="#badec3"/><rect x="1200" y="1680" width="81" height="81" fill="#b8dbbf"/><rect x="1280" y="1680" width="81" height="81" fill="#b6d9bb"/><rect x="1360" y="1680" width="81" height="81" fill="#b4d6b8"/><rect x="1440" y="1680" width="81" height="81" fill="#b3d4b4"/><rect x="1520" y="1680" width="81" height="81" fill="#b1d3b1"/><rect x="1600" y="1680" width="81" height="81" fill="#b0d1ae"/><rect x="1680" y="1680" width="81" height="81" fill="#afd0ab"/><rect x="1760" y="1680" width="81" height="81" fill="#aecfa8"/><rect x="1840" y="1680" width="81" height="81" fill="#aecea5"/><rect x="1920" y="1680" width="81" height="81" fill="#adcda2"/><rect x="2000" y="1680" width="81" height="81" fill="#accc9f"/><rect x="2080" y="1680" width="81" height="81" fill="#acca9c"/><rect x="2160" y="1680" width="81" height="81" fill="#abc998"/><rect x="2240" y="1680" width="81" height="81" fill="#abc895"/><rect x="2320" y="1680" width="81" height="81" fill="#abc793"/><rect x="2400" y="1680" width="81" height="81" fill="#aac691"/><rect x="2480" y="1680" width="81" height="81" fill="#aac68f"/><rect x="2560" y="1680" width="81" height="81" fill="#aac58e"/><rect x="-80" y="1760" width="81" height="81" fill="#c2ebd2"/><rect x="0" y="1760" width="81" height="81" fill="#c2ebd3"/><rect x="80" y="1760" width="81" height="81" fill="#c3ecd3"/><rect x="160" y="1760" width="81" height="81" fill="#c3edd4"/><rect x="240" y="1760" width="81" height="81" fill="#c4edd4"/><rect x="320" y="1760" width="81" height="81" fill="#c4eed4"/><rect x="400" y="1760" width="81" height="81" fill="#c4eed4"/><rect x="480" y="1760" width="81" height="81" fill="#c4edd4"/><rect x="560" y="1760" width="81" height="81" fill="#c4edd4"/><rect x="640" y="1760" width="81" height="81" fill="#c4ecd2"/><rect x="720" y="1760" width="81" height="81" fill="#c3ead1"/><rect x="800" y="1760" width="81" height="81" fill="#c1e8cf"/><rect x="880" y="1760" width="81" height="81" fill="#c0e6cc"/><rect x="960" y="1760" width="81" height="81" fill="#bee3c9"/><rect x="1040" y="1760" width="81" height="81" fill="#bce1c6"/><rect x="1120" y="1760" width="81" height="81" fill="#badec3"/><rect x="1200" y="1760" width="81" height="81" fill="#b8dbbf"/><rect x="1280" y="1760" width="81" height="81" fill="#b6d8bb"/><rect x="1360" y="1760" width="81" height="81" fill="#b4d5b7"/><rect x="1440" y="1760" width="81" height="81" fill="#b2d3b4"/><rect x="1520" y="1760" width="81" height="81" fill="#b0d2b1"/><rect x="1600" y="1760" width="81" height="81" fill="#afd0ad"/><rect x="1680" y="1760" width="81" height="81" fill="#aecfaa"/><rect x="1760" y="1760" width="81" height="81" fill="#adcea7"/><rect x="1840" y="1760" width="81" height="81" fill="#accca4"/><rect x="1920" y="1760" width="81" height="81" fill="#abcba1"/><rect x="2000" y="1760" width="81" height="81" fill="#aaca9d"/><rect x="2080" y="1760" width="81" height="81" fill="#aac899"/><rect x="2160" y="1760" width="81" height="81" fill="#a9c796"/><rect x="2240" y="1760" width="81" height="81" fill="#a8c693"/><rect x="2320" y="1760" width="81" height="81" fill="#a8c590"/><rect x="2400" y="1760" width="81" height="81" fill="#a8c48e"/><rect x="2480" y="1760" width="81" height="81" fill="#a7c38d"/><rect x="2560" y="1760" width="81" height="81" fill="#a7c38b"/><rect x="-80" y="1840" width="81" height="81" fill="#c2ebd2"/><rect x="0" y="1840" width="81" height="81" fill="#c2ebd3"/><rect x="80" y="1840" width="81" height="81" fill="#c3ecd3"/><rect x="160" y="1840" width="81" height="81" fill="#c3edd4"/><rect x="240" y="1840" width="81" height="81" fill="#c4edd4"/><rect x="320" y="1840" width="81" height="81" fill="#c4eed5"/><rect x="400" y="1840" width="81" height="81" fill="#c4eed5"/><rect x="480" y="1840" width="81" height="81" fill="#c4eed4"/><rect x="560" y="1840" width="81" height="81" fill="#c4edd4"/><rect x="640" y="1840" width="81" height="81" fill="#c4ecd2"/><rect x="720" y="1840" width="81" height="81" fill="#c3ead1"/><rect x="800" y="1840" width="81" height="81" fill="#c1e8cf"/><rect x="880" y="1840" width="81" height="81" fill="#c0e6cc"/><rect x="960" y="1840" width="81" height="81" fill="#bee3c9"/><rect x="1040" y="1840" width="81" height="81" fill="#bce0c6"/><rect x="1120" y="1840" width="81" height="81" fill="#baddc2"/><rect x="1200" y="1840" width="81" height="81" fill="#b7dabe"/><rect x="1280" y="1840" width="81" height="81" fill="#b5d7bb"/><rect x="1360" y="1840" width="81" height="81" fill="#b3d5b7"/><rect x="1440" y="1840" width="81" height="81" fill="#b1d3b3"/><rect x="1520" y="1840" width="81" height="81" fill="#b0d1b0"/><rect x="1600" y="1840" width="81" height="81" fill="#aecfad"/><rect x="1680" y="1840" width="81" height="81" fill="#adceaa"/><rect x="1760" y="1840" width="81" height="81" fill="#accda6"/><rect x="1840" y="1840" width="81" height="81" fill="#abcba3"/><rect x="1920" y="1840" width="81" height="81" fill="#aaca9f"/><rect x="2000" y="1840" width="81" height="81" fill="#a9c89b"/><rect x="2080" y="1840" width="81" height="81" fill="#a8c798"/><rect x="2160" y="1840" width="81" height="81" fill="#a7c594"/><rect x="2240" y="1840" width="81" height="81" fill="#a6c491"/><rect x="2320" y="1840" width="81" height="81" fill="#a6c38e"/><rect x="2400" y="1840" width="81" height="81" fill="#a5c28c"/><rect x="2480" y="1840" width="81" height="81" fill="#a5c18a"/><rect x="2560" y="1840" width="81" height="81" fill="#a5c088"/><rect x="-80" y="1920" width="81" height="81" fill="#c2ebd3"/><rect x="0" y="1920" width="81" height="81" fill="#c2ebd3"/><rect x="80" y="1920" width="81" height="81" fill="#c3ecd3"/><rect x="160" y="1920" width="81" height="81" fill="#c3edd4"/><rect x="240" y="1920" width="81" height="81" fill="#c4edd4"/><rect x="320" y="1920" width="81" height="81" fill="#c4eed5"/><rect x="400" y="1920" width="81" height="81" fill="#c4eed5"/><rect x="480" y="1920" width="81" height="81" fill="#c4eed4"/><rect x="560" y="1920" width="81" height="81" fill="#c4edd3"/><rect x="640" y="1920" width="81" height="81" fill="#c3ecd2"/><rect x="720" y="1920" width="81" height="81" fill="#c3ead1"/><rect x="800" y="1920" width="81" height="81" fill="#c1e8ce"/><rect x="880" y="1920" width="81" height="81" fill="#c0e6cc"/><rect x="960" y="1920" width="81" height="81" fill="#bee3c9"/><rect x="1040" y="1920" width="81" height="81" fill="#bce0c6"/><rect x="1120" y="1920" width="81" height="81" fill="#b9ddc2"/><rect x="1200" y="1920" width="81" height="81" fill="#b7dabe"/><rect x="1280" y="1920" width="81" height="81" fill="#b5d7ba"/><rect x="1360" y="1920" width="81" height="81" fill="#b3d4b7"/><rect x="1440" y="1920" width="81" height="81" fill="#b1d2b3"/><rect x="1520" y="1920" width="81" height="81" fill="#afd0b0"/><rect x="1600" y="1920" width="81" height="81" fill="#aecfac"/><rect x="1680" y="1920" width="81" height="81" fill="#accda9"/><rect x="1760" y="1920" width="81" height="81" fill="#abcca6"/><rect x="1840" y="1920" width="81" height="81" fill="#aacaa2"/><rect x="1920" y="1920" width="81" height="81" fill="#a9c99e"/><rect x="2000" y="1920" width="81" height="81" fill="#a7c79a"/><rect x="2080" y="1920" width="81" height="81" fill="#a6c596"/><rect x="2160" y="1920" width="81" height="81" fill="#a5c492"/><rect x="2240" y="1920" width="81" height="81" fill="#a5c28f"/><rect x="2320" y="1920" width="81" height="81" fill="#a4c18c"/><rect x="2400" y="1920" width="81" height="81" fill="#a3c08a"/><rect x="2480" y="1920" width="81" height="81" fill="#a3bf88"/><rect x="2560" y="1920" width="81" height="81" fill="#a2be86"/></g></g>
<g transform="translate(1900,260) scale(0.14467)" fill="#2c2858">
<path d="M330,215 C230,255 150,350 150,455 C150,565 230,680 370,752 C300,665 258,600 248,522 C243,470 252,430 270,405 L240,410 C262,355 305,318 362,300 Z"/>
<path d="M590,250 C700,300 790,400 812,550 C818,650 772,732 700,778 C722,705 722,645 702,605 L652,612 C692,562 702,522 692,482 C662,422 604,382 577,330 Z"/>
<path d="M420,345 C445,400 432,445 472,502 C512,552 582,582 662,592 L780,572 L758,552 L652,560 C582,550 522,520 492,470 C472,430 482,390 442,350 Z"/>
<path d="M365,450 C348,522 358,602 420,652 C482,702 542,742 570,802 L604,792 C584,720 532,680 482,640 C422,590 402,540 400,470 Z"/>
<ellipse cx="655" cy="522" rx="38" ry="32"/>
<ellipse cx="382" cy="208" rx="36" ry="17"/>
<ellipse cx="512" cy="226" rx="40" ry="17"/>
</g>
<g clip-path="url(#sc)" filter="url(#bl2)" fill="#8fae9a" opacity="0.18"><ellipse cx="200" cy="1840" rx="120" ry="22"/><ellipse cx="420" cy="1835" rx="90" ry="25"/><ellipse cx="640" cy="1842" rx="110" ry="20"/><ellipse cx="830" cy="1838" rx="60" ry="22"/></g>
<path d="M367,1920 L371,1915.5 L386,1914.2 L399,1914.8 L398,1920 Z" fill="#dfe8e0"/><path d="M414,1920 L418,1914.5 L432,1913.6 L444,1914.2 L440,1920 Z" fill="#f0f4f0"/>
</svg>
<svg id="slide" width="1600" height="1200" viewBox="0 0 1600 1200">
<line x1="0" y1="752" x2="1600" y2="752" stroke="#fff" stroke-opacity="0.07" stroke-width="1.4"/>
<line x1="0" y1="600.3" x2="1600" y2="600.3" stroke="#000" stroke-opacity="0.035" stroke-width="1.2"/>
<line x1="0" y1="602.1" x2="1600" y2="602.1" stroke="#fff" stroke-opacity="0.13" stroke-width="1.4"/>
<line x1="0" y1="905.3" x2="1600" y2="905.3" stroke="#000" stroke-opacity="0.035" stroke-width="1.2"/>
<line x1="0" y1="907.1" x2="1600" y2="907.1" stroke="#fff" stroke-opacity="0.13" stroke-width="1.4"/>
<line x1="110" y1="982.2" x2="1500" y2="982.2" stroke="#e8f6ea" stroke-opacity="0.3" stroke-width="1.6"/>
<rect x="-5" y="173" width="137.3" height="12.3" fill="#3a5566"/>
<rect x="143.8" y="174" width="1460" height="12.6" fill="#262a6c"/>
<text x="142.5" y="125.3" font-size="65.5" font-weight="bold" fill="#242c6a" textLength="328" lengthAdjust="spacingAndGlyphs">Investment</text>
<text x="487" y="125.3" font-size="65.5" font-weight="bold" fill="#242c6a" textLength="55" lengthAdjust="spacingAndGlyphs">in</text>
<text x="558.5" y="125.3" font-size="65.5" font-weight="bold" fill="#242c6a" textLength="280" lengthAdjust="spacingAndGlyphs">PropTech</text>
<text x="288" y="268.3" font-size="50.5" fill="#37454f" stroke="#37454f" stroke-width="1.9" textLength="483" lengthAdjust="spacingAndGlyphs">Real Estate Tech Financing</text>
<text x="783.5" y="268.3" font-size="50.5" fill="#37454f" stroke="#37454f" stroke-width="1.9" textLength="496" lengthAdjust="spacingAndGlyphs">History: Deals And Dollars</text>
<text x="567.5" y="319.2" font-size="35.3" fill="#37454f" stroke="#37454f" stroke-width="0.9" textLength="182" lengthAdjust="spacingAndGlyphs">2011 - 2016</text>
<text x="757.5" y="319.2" font-size="35.3" fill="#37454f" stroke="#37454f" stroke-width="0.9" textLength="236" lengthAdjust="spacingAndGlyphs">YTD (2/16/2016)</text>
<rect x="1306.3" y="403.8" width="129" height="577.9" fill="#8a888c"/>
<rect x="169.8" y="927.5" width="129" height="54.2" fill="#0c71ba"/>
<rect x="397.1" y="916.2" width="129" height="65.5" fill="#0b70b9"/>
<rect x="624.4" y="845.2" width="129" height="136.5" fill="#0a6db6"/>
<rect x="851.7" y="628.1" width="129" height="353.6" fill="#0a68ae"/>
<rect x="1079" y="452.3" width="129" height="529.4" fill="#0862a4"/>
<rect x="1306.3" y="911.0" width="129" height="70.7" fill="#0962a0"/>
<polyline points="234.8,886 461.3,810.5 689.5,722.5 915.7,561.7 1142.2,507.9 1368.3,919.6" fill="none" stroke="#cf8a4c" stroke-width="5.4" stroke-linejoin="round"/>
<line x1="1142.2" y1="507.9" x2="1369.3" y2="470.5" stroke="#cf8a4c" stroke-width="5.6" stroke-dasharray="13 7"/>
<circle cx="234.8" cy="886" r="6.8" fill="#cf8a4c"/>
<circle cx="461.3" cy="810.5" r="6.8" fill="#cf8a4c"/>
<circle cx="689.5" cy="722.5" r="6.8" fill="#cf8a4c"/>
<circle cx="915.7" cy="561.7" r="6.8" fill="#cf8a4c"/>
<circle cx="1142.2" cy="507.9" r="6.8" fill="#cf8a4c"/>
<circle cx="1368.3" cy="919.6" r="6.8" fill="#cf8a4c"/>
<circle cx="1369.3" cy="470.5" r="6.8" fill="#cf8a4c"/>
<text x="221.54" y="856.96" font-size="26.46" font-weight="normal" fill="#4c5c5a" textLength="25.87" lengthAdjust="spacingAndGlyphs" stroke="#4c5c5a" stroke-width="0.4">40</text>
<text x="448.32" y="782.72" font-size="30.26" font-weight="normal" fill="#4c5c5a" textLength="25.72" lengthAdjust="spacingAndGlyphs" stroke="#4c5c5a" stroke-width="0.4">70</text>
<text x="672.72" y="694.47" font-size="28.31" font-weight="normal" fill="#4c5c5a" textLength="34.78" lengthAdjust="spacingAndGlyphs" stroke="#4c5c5a" stroke-width="0.4">105</text>
<text x="898.28" y="534.48" font-size="27.95" font-weight="normal" fill="#4c5c5a" textLength="36.71" lengthAdjust="spacingAndGlyphs" stroke="#4c5c5a" stroke-width="0.4">170</text>
<text x="1127.25" y="482.88" font-size="29.61" font-weight="normal" fill="#d6f0ec" textLength="33.42" lengthAdjust="spacingAndGlyphs" stroke="#d6f0ec" stroke-width="0.4">191</text>
<text x="1351.86" y="444.9" font-size="30.63" font-weight="normal" fill="#e2e6e4" textLength="40.76" lengthAdjust="spacingAndGlyphs" stroke="#e2e6e4" stroke-width="0.4">206</text>
<text x="1357.81" y="893.52" font-size="29.67" font-weight="normal" fill="#4c5250" textLength="23.96" lengthAdjust="spacingAndGlyphs" stroke="#4c5250" stroke-width="0.4">26</text>
<text x="211.22" y="966.04" font-size="27.63" font-weight="normal" fill="#d6f0ec" textLength="52.6" lengthAdjust="spacingAndGlyphs" stroke="#d6f0ec" stroke-width="0.5">$186</text>
<text x="436.93" y="958.76" font-size="26.15" font-weight="normal" fill="#d6f0ec" textLength="52.69" lengthAdjust="spacingAndGlyphs" stroke="#d6f0ec" stroke-width="0.5">$218</text>
<text x="665.25" y="924.05" font-size="26.22" font-weight="normal" fill="#d6f0ec" textLength="51.5" lengthAdjust="spacingAndGlyphs" stroke="#d6f0ec" stroke-width="0.5">$446</text>
<text x="881.39" y="816.23" font-size="27.76" font-weight="normal" fill="#d6f0ec" textLength="70.51" lengthAdjust="spacingAndGlyphs" stroke="#d6f0ec" stroke-width="0.5">$1,142</text>
<text x="1110.07" y="727" font-size="28.69" font-weight="normal" fill="#d6f0ec" textLength="71.62" lengthAdjust="spacingAndGlyphs" stroke="#d6f0ec" stroke-width="0.5">$1,714</text>
<text x="1332.77" y="513.39" font-size="31.64" font-weight="normal" fill="#dde2e0" textLength="72.56" lengthAdjust="spacingAndGlyphs" stroke="#dde2e0" stroke-width="0.5">$1,869</text>
<text x="1346.19" y="957.1" font-size="28.5" font-weight="normal" fill="#d6f0ec" textLength="54.7" lengthAdjust="spacingAndGlyphs" stroke="#d6f0ec" stroke-width="0.5">$236</text>
<text x="209.44" y="1028.33" font-size="29.13" font-weight="normal" fill="#63706c" textLength="46.79" lengthAdjust="spacingAndGlyphs" stroke="#63706c" stroke-width="0.3">2011</text>
<text x="436.89" y="1027.17" font-size="29.61" font-weight="normal" fill="#63706c" textLength="49.48" lengthAdjust="spacingAndGlyphs" stroke="#63706c" stroke-width="0.3">2012</text>
<text x="662.2" y="1026.9" font-size="28.73" font-weight="normal" fill="#63706c" textLength="48.95" lengthAdjust="spacingAndGlyphs" stroke="#63706c" stroke-width="0.3">2013</text>
<text x="889.95" y="1027.31" font-size="27.76" font-weight="normal" fill="#63706c" textLength="48.43" lengthAdjust="spacingAndGlyphs" stroke="#63706c" stroke-width="0.3">2014</text>
<text x="1117.24" y="1026.74" font-size="29.31" font-weight="normal" fill="#63706c" textLength="49.43" lengthAdjust="spacingAndGlyphs" stroke="#63706c" stroke-width="0.3">2015</text>
<text x="1317.95" y="1028.58" font-size="32.79" font-weight="normal" fill="#63706c" textLength="106.92" lengthAdjust="spacingAndGlyphs" stroke="#63706c" stroke-width="0.3">2016 YTD</text>
<rect x="619.2" y="1069.5" width="46.4" height="14.5" fill="#0b6fb9"/>
<text x="673.8" y="1085.5" font-size="23" fill="#687470" textLength="127" lengthAdjust="spacingAndGlyphs">Dollars ($M)</text>
<line x1="829.2" y1="1077" x2="882.5" y2="1077" stroke="#cf8a4c" stroke-width="5"/>
<circle cx="857" cy="1077" r="6" fill="#cf8a4c"/>
<text x="888.3" y="1085.5" font-size="23" fill="#687470" textLength="53.5" lengthAdjust="spacingAndGlyphs">Deals</text>
<text x="1308.7" y="1091.5" font-size="22" fill="#36423c" textLength="216.4" lengthAdjust="spacingAndGlyphs">www.cbinsights.com</text>
<path d="M0,1057.9 H50.3 V1104 H0 Z" fill="#1d3a5e"/>
<rect x="31" y="1078.2" width="20" height="4.6" fill="#c8ecd6"/>
<path d="M53.7,1057.7 H66 A9,9 0 0 1 74.6,1067 V1076.6 H53.7 Z" fill="#1a7fb4"/>
<path d="M53.1,1083 H74 V1094 A9,9 0 0 1 65,1103.2 H53.1 Z" fill="#e08a3c"/>
<text x="79.3" y="1094.8" font-size="46" font-weight="bold" fill="#1b4e80" textLength="51" lengthAdjust="spacingAndGlyphs">CB</text>
<text x="135.5" y="1093.9" font-size="31.4" fill="#3a8ca5" textLength="110.6" lengthAdjust="spacingAndGlyphs">INSIGHTS</text>
<text x="1393" y="107" font-size="43.6" font-weight="bold" fill="#2c2858" stroke="#2c2858" stroke-width="1.6" textLength="119" lengthAdjust="spacingAndGlyphs">RICS</text>
</svg>
</body></html>
